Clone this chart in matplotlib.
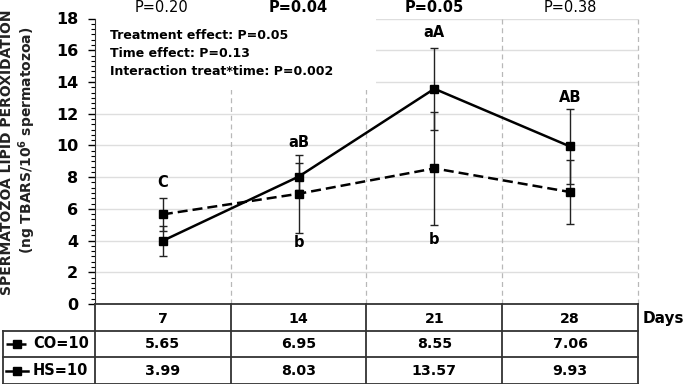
import numpy as np
import matplotlib
matplotlib.use("Agg")
import matplotlib.pyplot as plt
from matplotlib.ticker import MultipleLocator, AutoMinorLocator
from matplotlib.patches import Rectangle

plt.rcParams["font.family"] = ["DejaVu Sans"]

days = ["7", "14", "21", "28"]
co_mean = [5.65, 6.95, 8.55, 7.06]
hs_mean = [3.99, 8.03, 13.57, 9.93]
co_err = [1.02, 2.45, 3.58, 2.03]
hs_err = [0.95, 0.85, 2.60, 2.35]
p_values = ["P=0.20", "P=0.04", "P=0.05", "P=0.38"]
p_bold = [False, True, True, False]
letters_hs = ["C", "aB", "aA", "AB"]
letters_hs_y = [7.63, 10.2, 17.1, 13.05]
letters_co = ["", "b", "b", ""]
letters_co_y = [0, 3.85, 4.05, 0]
stats_text = ["Treatment effect: P=0.05", "Time effect: P=0.13",
              "Interaction treat*time: P=0.002"]

W, H = 685, 384
fig = plt.figure(figsize=(6.85, 3.84), dpi=100)

def fx(px):
    return px / W

def fy(py):
    return (H - py) / H

# main plot
ax = fig.add_axes([fx(95), fy(304), fx(638) - fx(95), fy(18.5) - fy(304)])
x = np.arange(1, 5)
ax.set_xlim(0.5, 4.5)
ax.set_ylim(0, 18)
ax.set_axisbelow(True)
ax.yaxis.grid(True, color="#dedede", lw=1)
ax.yaxis.set_major_locator(MultipleLocator(2))
ax.yaxis.set_minor_locator(AutoMinorLocator(6))
ax.tick_params(axis="y", which="major", direction="out", length=5, width=1,
               labelsize=11.5, pad=7)
ax.tick_params(axis="y", which="minor", direction="out", length=3, width=0.8)
for lab in ax.get_yticklabels():
    lab.set_fontweight("bold")
ax.set_xticks([])
for s in ["top", "right"]:
    ax.spines[s].set_visible(False)
ax.spines["left"].set_color("#333333")
ax.spines["bottom"].set_color("#333333")
ax.spines["bottom"].set_linewidth(1.3)

for xv in [1.5, 2.5, 3.5, 4.5]:
    ax.axvline(xv, color="#b8b8b8", ls=(0, (4, 3)), lw=0.9, zorder=0.6, clip_on=False)

# white box behind the stats text
ax.add_patch(Rectangle((0.51, 13.5), 2.06, 4.6, facecolor="white",
                       edgecolor="none", zorder=1, clip_on=False))
for i, t in enumerate(stats_text):
    ax.text(0.61, 16.9 - i * 1.13, t, fontsize=9, fontweight="bold",
            va="center", ha="left", zorder=2)

ax.errorbar(x, co_mean, yerr=co_err, fmt="none", ecolor="#222222",
            elinewidth=1, capsize=3, zorder=3)
ax.errorbar(x, hs_mean, yerr=hs_err, fmt="none", ecolor="#222222",
            elinewidth=1, capsize=3, zorder=3)
ax.plot(x, co_mean, color="black", lw=1.8, ls=(0, (4, 2)), marker="s",
        markersize=6, zorder=4)
ax.plot(x, hs_mean, color="black", lw=1.8, ls="-", marker="s",
        markersize=6, zorder=4)

for i in range(4):
    ax.text(x[i], letters_hs_y[i], letters_hs[i], fontsize=10.5,
            fontweight="bold", ha="center", va="center", zorder=5)
    if letters_co[i]:
        ax.text(x[i], letters_co_y[i], letters_co[i], fontsize=10.5,
                fontweight="bold", ha="center", va="center", zorder=5)
    fig.text(fx(162 + 136 * i), fy(8), p_values[i], fontsize=10.5,
             fontweight="bold" if p_bold[i] else "normal",
             ha="center", va="center")

# y label (two lines)
fig.text(fx(7), fy(152), "SPERMATOZOA LIPID PEROXIDATION", rotation=90,
         fontsize=10, fontweight="bold", ha="center", va="center",
         color="#222222")
fig.text(fx(27), fy(140), r"(ng TBARS/10$^{\mathbf{6}}$ spermatozoa)",
         rotation=90, fontsize=10, fontweight="bold", ha="center",
         va="center", color="#222222")

# table below the plot
tx0 = 0.5 - 92 / 136.0
axt = fig.add_axes([fx(3), 0, fx(638) - fx(3), fy(304)])
axt.set_xlim(tx0, 4.5)
axt.set_ylim(0, 3)
axt.axis("off")
lc = "#333333"
lw = 1.3
for xv in [0.5, 1.5, 2.5, 3.5, 4.5]:
    axt.plot([xv, xv], [0, 3], color=lc, lw=lw, clip_on=False)
axt.plot([tx0, tx0], [0, 2], color=lc, lw=lw, clip_on=False)
axt.plot([tx0, 4.5], [2, 2], color=lc, lw=lw, clip_on=False)
axt.plot([tx0, 4.5], [1, 1], color=lc, lw=lw, clip_on=False)
axt.plot([tx0, 4.5], [0.01, 0.01], color=lc, lw=lw, clip_on=False)

for i in range(4):
    axt.text(x[i], 2.45, days[i], fontsize=10.2, fontweight="bold",
             ha="center", va="center")
    axt.text(x[i], 1.5, f"{co_mean[i]:.2f}", fontsize=10.2,
             fontweight="bold", ha="center", va="center")
    axt.text(x[i], 0.5, f"{hs_mean[i]:.2f}", fontsize=10.2,
             fontweight="bold", ha="center", va="center")

lx = [0.5 + (6 - 95) / 136.0, 0.5 + (28 - 95) / 136.0]
axt.plot(lx, [1.5, 1.5], color="black", lw=1.8, ls=(0, (3, 2)), clip_on=False)
axt.plot([np.mean(lx)], [1.5], "s", color="black", markersize=6, clip_on=False)
axt.plot(lx, [0.5, 0.5], color="black", lw=1.8, ls="-", clip_on=False)
axt.plot([np.mean(lx)], [0.5], "s", color="black", markersize=6, clip_on=False)
axt.text(0.5 + (33 - 95) / 136.0, 1.5, "CO=10", fontsize=10.5,
         fontweight="bold", ha="left", va="center")
axt.text(0.5 + (33 - 95) / 136.0, 0.5, "HS=10", fontsize=10.5,
         fontweight="bold", ha="left", va="center")

fig.text(fx(643), fy(318), "Days", fontsize=11, fontweight="bold",
         ha="left", va="center")

plt.savefig("out.png", dpi=100, facecolor="white")
